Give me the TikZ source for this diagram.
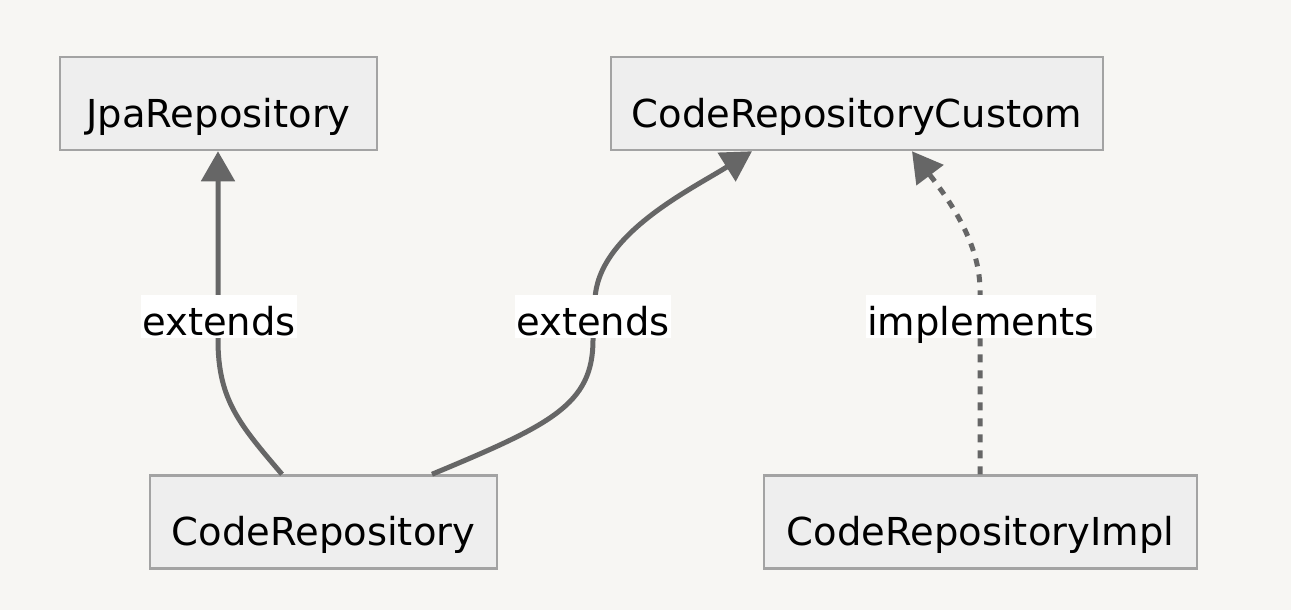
\documentclass[tikz,border=0pt]{standalone}
\usepackage{fontspec}
\setmainfont{DejaVu Sans}
\usetikzlibrary{arrows.meta}
\definecolor{bgc}{HTML}{F7F6F3}
\definecolor{boxfill}{HTML}{EEEEEE}
\definecolor{boxline}{HTML}{A3A3A3}
\definecolor{edgec}{HTML}{666666}
\begin{document}
\begin{tikzpicture}[x=1pt,y=-1pt,
  cls/.style={draw=boxline,fill=boxfill,line width=2.5pt,inner sep=0pt,
    font=\fontsize{38.5}{46}\selectfont,text height=50pt,text depth=3pt,
    minimum height=93pt,anchor=center},
  lbl/.style={fill=white,inner ysep=0pt,inner xsep=1pt,anchor=base,
    font=\fontsize{38.5}{46}\selectfont,text height=40pt,text depth=3pt},
  rel/.style={draw=edgec,line width=5pt,-{Triangle[length=30pt,width=33pt]}},
  impl/.style={rel,dash pattern=on 8pt off 8pt}]
\fill[bgc] (0,0) rectangle (1291,610);
\useasboundingbox (0,0) rectangle (1291,610);
\node[cls,minimum width=317pt] (jpa) at (218.5,103.5) {JpaRepository};
\node[cls,minimum width=492pt] (custom) at (857,103.5) {CodeRepositoryCustom};
\node[cls,minimum width=347pt] (code) at (323.5,522) {CodeRepository};
\node[cls,minimum width=433pt] (implc) at (980.5,522) {CodeRepositoryImpl};
\coordinate (e1s) at (code.north -| 282,0);
\coordinate (e2s) at (code.north -| 432,0);
\coordinate (e1t) at (jpa.south -| 218,0);
\coordinate (e2t) at (custom.south -| 752,0);
\coordinate (e3s) at (implc.north -| 980,0);
\coordinate (e3t) at (custom.south -| 912,0);
\draw[rel] (e1s) .. controls (240,425) and (218,400) .. (218,340) -- (e1t);
\draw[rel] (e2s) .. controls (550,425) and (593,405) .. (593,340) -- (595,300)
  .. controls (597,235) and (690,190) .. (e2t);
\draw[impl] (e3s) -- (980,290) .. controls (980,240) and (945,195) .. (e3t);
\node[lbl] (l1) at (219,335) {extends};
\node[lbl] (l2) at (593,335) {extends};
\node[lbl] (l3) at (981,335) {implements};
\end{tikzpicture}
\end{document}
